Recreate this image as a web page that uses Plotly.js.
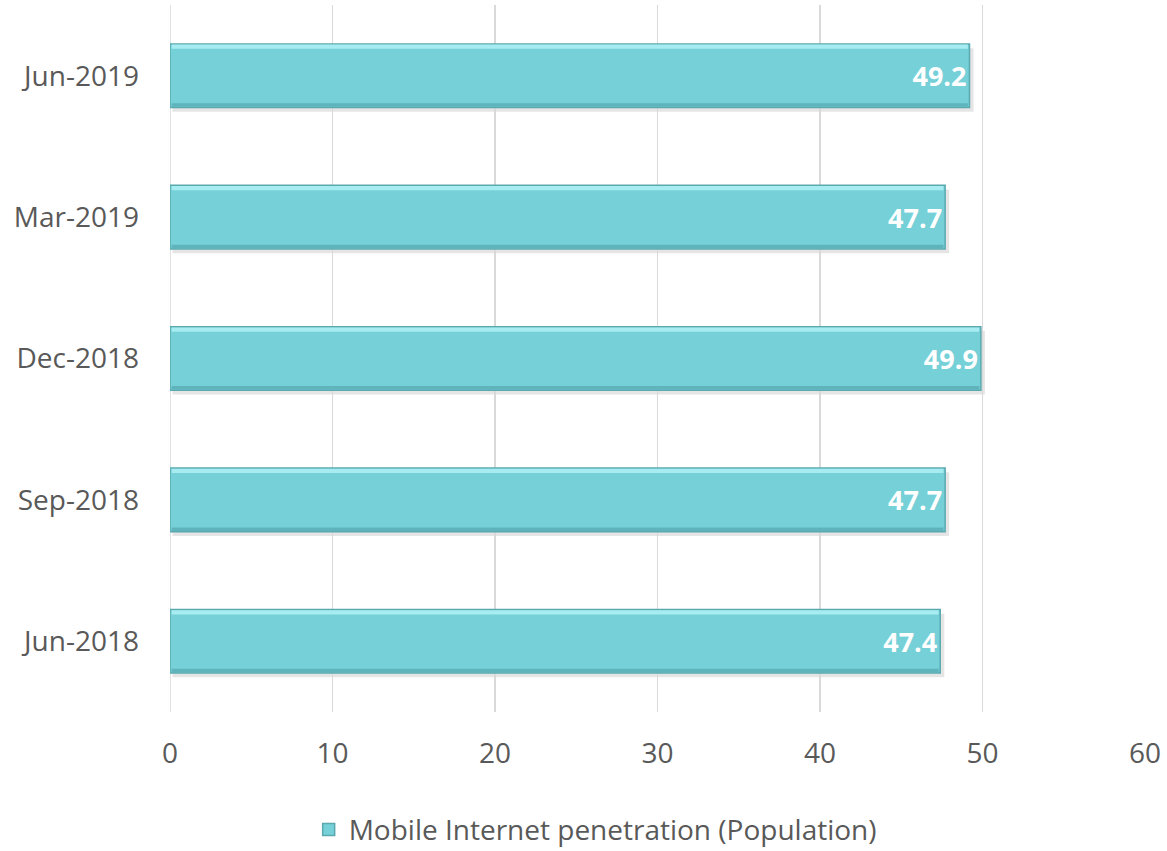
<!DOCTYPE html>
<html><head><meta charset="utf-8">
<script src="https://cdn.plot.ly/plotly-3.0.1.min.js"></script>
<style>html,body{margin:0;padding:0;background:#fff}#chart{width:1167px;height:851px}</style>
</head><body><div id="chart"></div>
<script>
var categories = ["Jun-2018", "Sep-2018", "Dec-2018", "Mar-2019", "Jun-2019"];
var values = [47.4, 47.7, 49.9, 47.7, 49.2];
var seriesName = "Mobile Internet penetration (Population)";
var xTicks = [0, 10, 20, 30, 40, 50, 60];

var fontFam = "'Open Sans', sans-serif";
var bargap = 0.55;
var half = (1 - bargap) / 2;
var trace = {
  type: "bar", orientation: "h",
  y: categories, x: values, name: seriesName,
  text: values.map(function(v){return v.toFixed(1);}),
  textposition: "inside", insidetextanchor: "end",
  textfont: {color: "#ffffff", size: 27, family: fontFam, weight: "bold"},
  marker: {color: "#76D0D8", line: {color: "#5AA9AF", width: 1.5}},
  hoverinfo: "none", cliponaxis: false
};
// bevel decoration derived from the data
var shapes = [{type: "line", xref: "x", yref: "paper", x0: 0, x1: 0, y0: 0, y1: 1, line: {color: "#D9D9D9", width: 1.5}, layer: "below"}];
values.forEach(function(v, i){
  shapes.push({type: "rect", xref: "x", yref: "y", x0: 0.15, x1: v + 0.25, y0: i - half - 0.03, y1: i + half - 0.03,
    fillcolor: "rgba(0,0,0,0.10)", line: {width: 0}, layer: "below"});
  shapes.push({type: "rect", xref: "x", yref: "y", x0: 0.1, x1: v - 0.1, y0: i + half - 0.035, y1: i + half - 0.005,
    fillcolor: "#A6ECF0", line: {width: 0}, layer: "above"});
  shapes.push({type: "rect", xref: "x", yref: "y", x0: 0.1, x1: v - 0.1, y0: i - half + 0.005, y1: i - half + 0.03,
    fillcolor: "#5FB4BB", line: {width: 0}, layer: "above"});
});
var layout = {
  width: 1167, height: 851,
  margin: {l: 170, r: 22, t: 5, b: 139},
  paper_bgcolor: "#fff", plot_bgcolor: "#fff",
  bargap: bargap,
  showlegend: true,
  legend: {orientation: "h", xref: "container", x: 0.51, xanchor: "center", yref: "container", y: 0.025, yanchor: "middle",
           font: {size: 28, color: "#595959", family: fontFam}},
  xaxis: {range: [0, 60], tickvals: xTicks, showgrid: true, gridcolor: "#D9D9D9", gridwidth: 1.5,
          zeroline: false, showline: false, ticks: "", ticklabelstandoff: 22,
          tickfont: {size: 28, color: "#595959", family: fontFam}},
  yaxis: {categoryorder: "array", categoryarray: categories, showgrid: false, zeroline: false, showline: false,
          ticks: "", ticklabelstandoff: 30, tickfont: {size: 28, color: "#595959", family: fontFam}},
  shapes: shapes
};
Plotly.newPlot("chart", [trace], layout, {displayModeBar: false, staticPlot: true});
</script></body></html>
